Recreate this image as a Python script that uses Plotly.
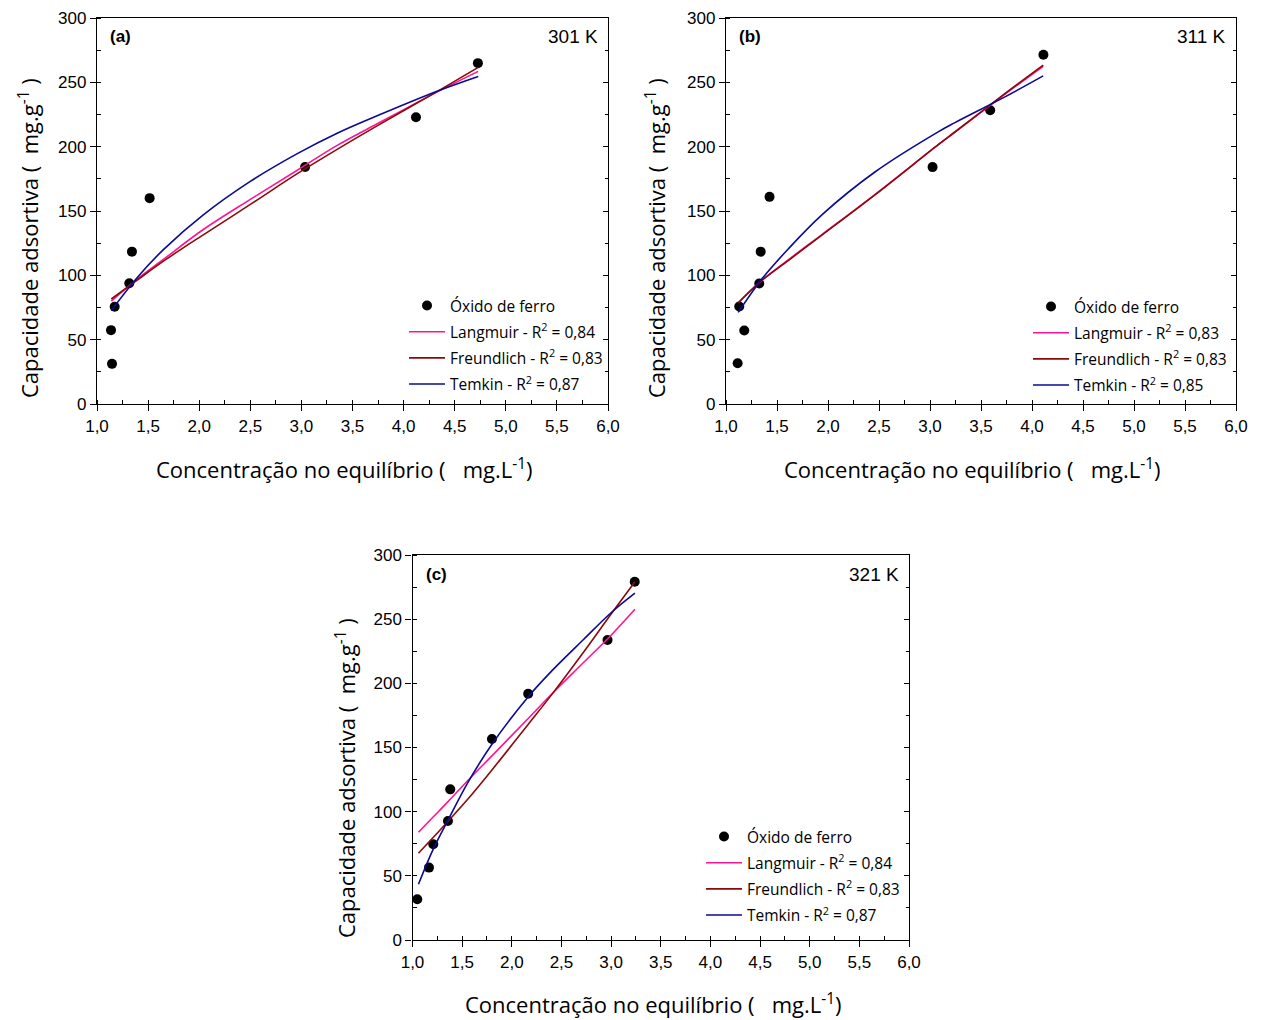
import plotly.graph_objects as go

# ---------------- data ----------------
# panel (a) 301 K
xa_pts = [1.147, 1.137, 1.173, 1.316, 1.342, 1.515, 3.036, 4.121, 4.727]
ya_pts = [31.2, 57.4, 75.6, 93.8, 118.4, 160.0, 184.2, 222.9, 264.9]
xa_fit = [1.14, 1.39, 1.65, 2.04, 2.50, 2.96, 3.35, 3.77, 4.34, 4.73]
ya_lang = [80.0, 96.9, 112.4, 135.6, 159.0, 181.7, 201.0, 219.0, 243.0, 258.5]
ya_freu = [81.6, 96.1, 111.0, 131.5, 155.1, 179.0, 197.9, 217.5, 243.4, 261.6]
ya_temk = [72.7, 98.0, 120.0, 147.0, 173.0, 194.6, 210.5, 225.0, 243.5, 254.6]

# panel (b) 311 K
xb_pts = [1.114, 1.179, 1.130, 1.326, 1.340, 1.427, 3.025, 3.590, 4.112]
yb_pts = [31.7, 57.1, 75.8, 93.7, 118.4, 161.0, 184.1, 228.3, 271.4]
xb_fit = [1.12, 1.34, 1.61, 1.94, 2.46, 3.08, 3.24, 3.73, 4.11]
yb_lang = [78.9, 95.3, 112.0, 131.7, 162.8, 201.4, 211.0, 240.5, 262.5]
yb_freu = [78.5, 95.3, 111.5, 131.2, 162.5, 201.5, 211.2, 241.0, 263.4]
yb_temk = [71.2, 96.0, 120.5, 147.0, 180.3, 211.5, 218.5, 238.5, 255.0]

# panel (c) 321 K
xc_pts = [1.048, 1.166, 1.209, 1.357, 1.380, 1.800, 2.165, 2.964, 3.238]
yc_pts = [31.7, 56.4, 74.6, 92.7, 117.4, 156.6, 191.9, 233.8, 279.2]
xc_fit = [1.06, 1.21, 1.36, 1.56, 1.80, 2.17, 2.40, 2.72, 3.00, 3.24]
yc_lang = [84.0, 96.0, 108.0, 124.5, 143.5, 173.0, 191.5, 216.0, 237.5, 257.7]
yc_freu = [67.6, 80.0, 92.7, 110.0, 132.5, 168.5, 191.0, 224.0, 254.0, 279.2]
yc_temk = [43.4, 71.0, 93.7, 123.0, 152.5, 190.0, 209.5, 234.0, 255.0, 270.2]

panel_tags = ["(a)", "(b)", "(c)"]
temps = ["301 K", "311 K", "321 K"]
r2_lang = ["0,84", "0,83", "0,84"]
r2_freu = ["0,83", "0,83", "0,83"]
r2_temk = ["0,87", "0,85", "0,87"]

x_ticks = [1.0, 1.5, 2.0, 2.5, 3.0, 3.5, 4.0, 4.5, 5.0, 5.5, 6.0]
y_ticks = [0, 50, 100, 150, 200, 250, 300]

# ---------------- layout helpers ----------------
OFF = 8  # page body margin
W, H = 1263 - OFF, 1020 - OFF
C_LANG = "#FF1493"
C_FREU = "#8B0A0A"
C_TEMK = "#0A0A96"
TICK_FONT = dict(family="Liberation Sans, Arial, sans-serif", size=17, color="black")
TITLE_FONT = dict(family="Open Sans, Noto Sans, sans-serif", size=22, color="black")
LEG_FONT = dict(family="Open Sans, Noto Sans, sans-serif", size=15.5, color="black")

# plot areas in page pixels: (left, right, top, bottom)
areas = [(97, 608, 18, 404), (726, 1236, 18, 404), (412.5, 909, 555, 940)]
legend_pos = [(401, 289), (1025, 290), (698, 820)]
ytitle_pos = [(28, 238), (655, 238), (345, 778)]
xtitle_pos = [(344, 468), (972, 468), (653, 1003)]


def px(x):
    return (x - OFF) / W


def py(y):
    return 1 - (y - OFF) / H


fig = go.Figure()

datasets = [
    (xa_pts, ya_pts, xa_fit, ya_lang, ya_freu, ya_temk),
    (xb_pts, yb_pts, xb_fit, yb_lang, yb_freu, yb_temk),
    (xc_pts, yc_pts, xc_fit, yc_lang, yc_freu, yc_temk),
]

annotations = []
for i, (xp, yp, xf, yl, yfr, yt) in enumerate(datasets):
    n = "" if i == 0 else str(i + 1)
    xa = "x" + n
    ya = "y" + n
    yr = "y" + str(i + 4)
    leg = "legend" + n
    fig.add_trace(go.Scatter(x=xp, y=yp, mode="markers", name="Óxido de ferro", legendgroup="p" + n,
                             marker=dict(color="black", size=10), xaxis=xa, yaxis=ya, legend=leg))
    fig.add_trace(go.Scatter(x=xf, y=yl, mode="lines", line=dict(color=C_LANG, width=1.6, shape="spline"),
                             name="Langmuir - R<sup>2</sup> = " + r2_lang[i], legendgroup="l" + n,
                             xaxis=xa, yaxis=ya, legend=leg))
    fig.add_trace(go.Scatter(x=xf, y=yfr, mode="lines", line=dict(color=C_FREU, width=1.6, shape="spline"),
                             name="Freundlich - R<sup>2</sup> = " + r2_freu[i], legendgroup="f" + n,
                             xaxis=xa, yaxis=ya, legend=leg))
    fig.add_trace(go.Scatter(x=xf, y=yt, mode="lines", line=dict(color=C_TEMK, width=1.6, shape="spline"),
                             name="Temkin - R<sup>2</sup> = " + r2_temk[i], legendgroup="t" + n,
                             xaxis=xa, yaxis=ya, legend=leg))
    # invisible helper so the mirrored right-hand axis (inside ticks) is drawn
    fig.add_trace(go.Scatter(x=xp, y=yp, mode="markers", marker=dict(opacity=0), showlegend=False,
                             hoverinfo="skip", xaxis=xa, yaxis=yr))

    l, r, t, b = areas[i]
    common = dict(showline=True, linecolor="black", linewidth=1.3, mirror=True,
                  ticks="outside", ticklen=6, tickwidth=1.2, tickcolor="black",
                  tickfont=TICK_FONT, showgrid=False, zeroline=False, automargin=False)
    fig.layout["xaxis" + n] = dict(common, domain=[px(l), px(r)], anchor=ya, range=[1, 6],
                                   tickvals=x_ticks, tickformat=".1f",
                                   minor=dict(ticks="inside", ticklen=4, dtick=0.25, tickcolor="black"))
    fig.layout["yaxis" + n] = dict(common, domain=[py(b), py(t)], anchor=xa, range=[0, 300],
                                   tickvals=y_ticks,
                                   minor=dict(ticks="inside", ticklen=4, dtick=25, tickcolor="black"))
    fig.layout["yaxis" + str(i + 4)] = dict(overlaying=ya, side="right", anchor=xa, range=[0, 300],
                                            tickvals=y_ticks, ticks="inside", ticklen=5, tickwidth=1.2,
                                            tickcolor="black", showticklabels=False, showline=False,
                                            showgrid=False, zeroline=False, automargin=False,
                                            minor=dict(ticks="inside", ticklen=3, dtick=25, tickcolor="black"))
    lx, ly = legend_pos[i]
    fig.layout[leg] = dict(x=px(lx + 3), y=py(ly), xanchor="left", yanchor="top",
                           bgcolor="rgba(0,0,0,0)", borderwidth=0, font=LEG_FONT,
                           tracegroupgap=3, itemwidth=36)

    annotations.append(dict(text="<b>" + panel_tags[i] + "</b>", x=px(l + 11), y=py(t + 19),
                            xref="paper", yref="paper", xanchor="left", yanchor="middle",
                            showarrow=False, font=dict(family="Liberation Sans, Arial", size=17, color="black")))
    annotations.append(dict(text=temps[i], x=px(r - 8), y=py(t + 19), xref="paper", yref="paper",
                            xanchor="right", yanchor="middle", showarrow=False,
                            font=dict(family="Liberation Sans, Arial", size=19, color="black")))
    tx, ty = ytitle_pos[i]
    annotations.append(dict(text="Capacidade adsortiva (\u00a0 mg.g<sup>-1</sup>\u00a0)", x=px(tx), y=py(ty),
                            xref="paper", yref="paper", xanchor="center", yanchor="middle",
                            textangle=-90, showarrow=False, font=TITLE_FONT))
    tx, ty = xtitle_pos[i]
    annotations.append(dict(text="Concentração no equilíbrio (\u00a0\u00a0 mg.L<sup>-1</sup>)", x=px(tx), y=py(ty),
                            xref="paper", yref="paper", xanchor="center", yanchor="middle",
                            showarrow=False, font=TITLE_FONT))

fig.update_layout(width=W, height=H, margin=dict(l=0, r=0, t=0, b=0, autoexpand=False),
                  paper_bgcolor="white", plot_bgcolor="white",
                  separators=",.", showlegend=True, annotations=annotations)

fig.write_html("out.html")
